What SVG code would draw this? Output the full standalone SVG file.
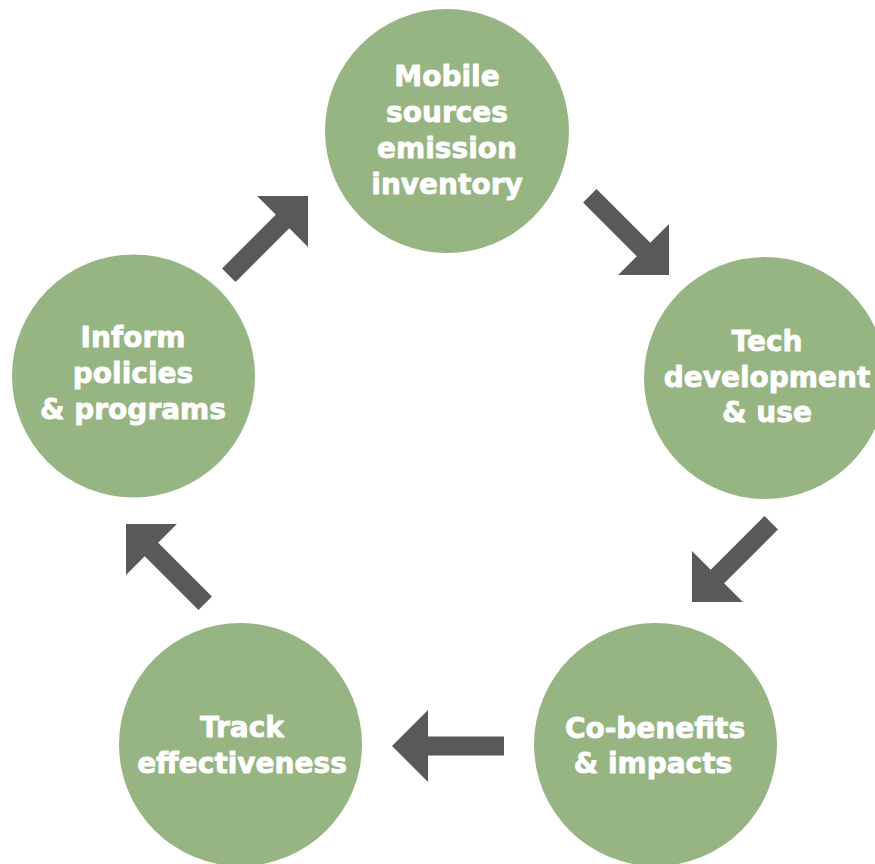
<svg xmlns="http://www.w3.org/2000/svg" xmlns:xlink="http://www.w3.org/1999/xlink" width="875" height="864" viewBox="0 0 875 864">
<style>
.node circle { fill: #97b583; }
.node text { fill: #ffffff; stroke: #ffffff; stroke-width: 0.8px; stroke-linejoin: round; font-family: "DejaVu Sans", "Liberation Sans", sans-serif; font-weight: bold; font-size: 28px; text-anchor: middle; }
.arrow { fill: #58595b; }
</style>
<defs>
<polygon id="arr" class="arrow" points="0,0 -36,-36 -36,-9.5 -112,-9.5 -112,9.5 -36,9.5 -36,36"/>
</defs>
<rect width="875" height="864" fill="#ffffff"/>
<g id="connectors">
<use xlink:href="#arr" href="#arr" transform="translate(308,196) rotate(-45)"/>
<use xlink:href="#arr" href="#arr" transform="translate(669,275) rotate(45)"/>
<use xlink:href="#arr" href="#arr" transform="translate(692,602) rotate(135)"/>
<use xlink:href="#arr" href="#arr" transform="translate(392,746) rotate(180)"/>
<use xlink:href="#arr" href="#arr" transform="translate(126,524) rotate(225)"/>
</g>
<g id="node-inventory" class="node">
<circle cx="447" cy="131" r="122"/>
<text x="447" y="86">Mobile</text>
<text x="447" y="122">sources</text>
<text x="447" y="158">emission</text>
<text x="447" y="194">inventory</text>
</g>
<g id="node-tech" class="node">
<circle cx="765" cy="378" r="121"/>
<text x="767" y="351">Tech</text>
<text x="767" y="387">development</text>
<text x="767" y="422">&amp; use</text>
</g>
<g id="node-cobenefits" class="node">
<circle cx="655.5" cy="744.5" r="121.5"/>
<text x="655" y="738">Co-benefits</text>
<text x="653" y="773">&amp; impacts</text>
</g>
<g id="node-track" class="node">
<circle cx="240.5" cy="744.5" r="121.5"/>
<text x="242" y="737">Track</text>
<text x="242" y="773">effectiveness</text>
</g>
<g id="node-inform" class="node">
<circle cx="133.5" cy="376" r="121.5"/>
<text x="133" y="347">Inform</text>
<text x="133" y="383">policies</text>
<text x="133" y="419">&amp; programs</text>
</g>
</svg>
